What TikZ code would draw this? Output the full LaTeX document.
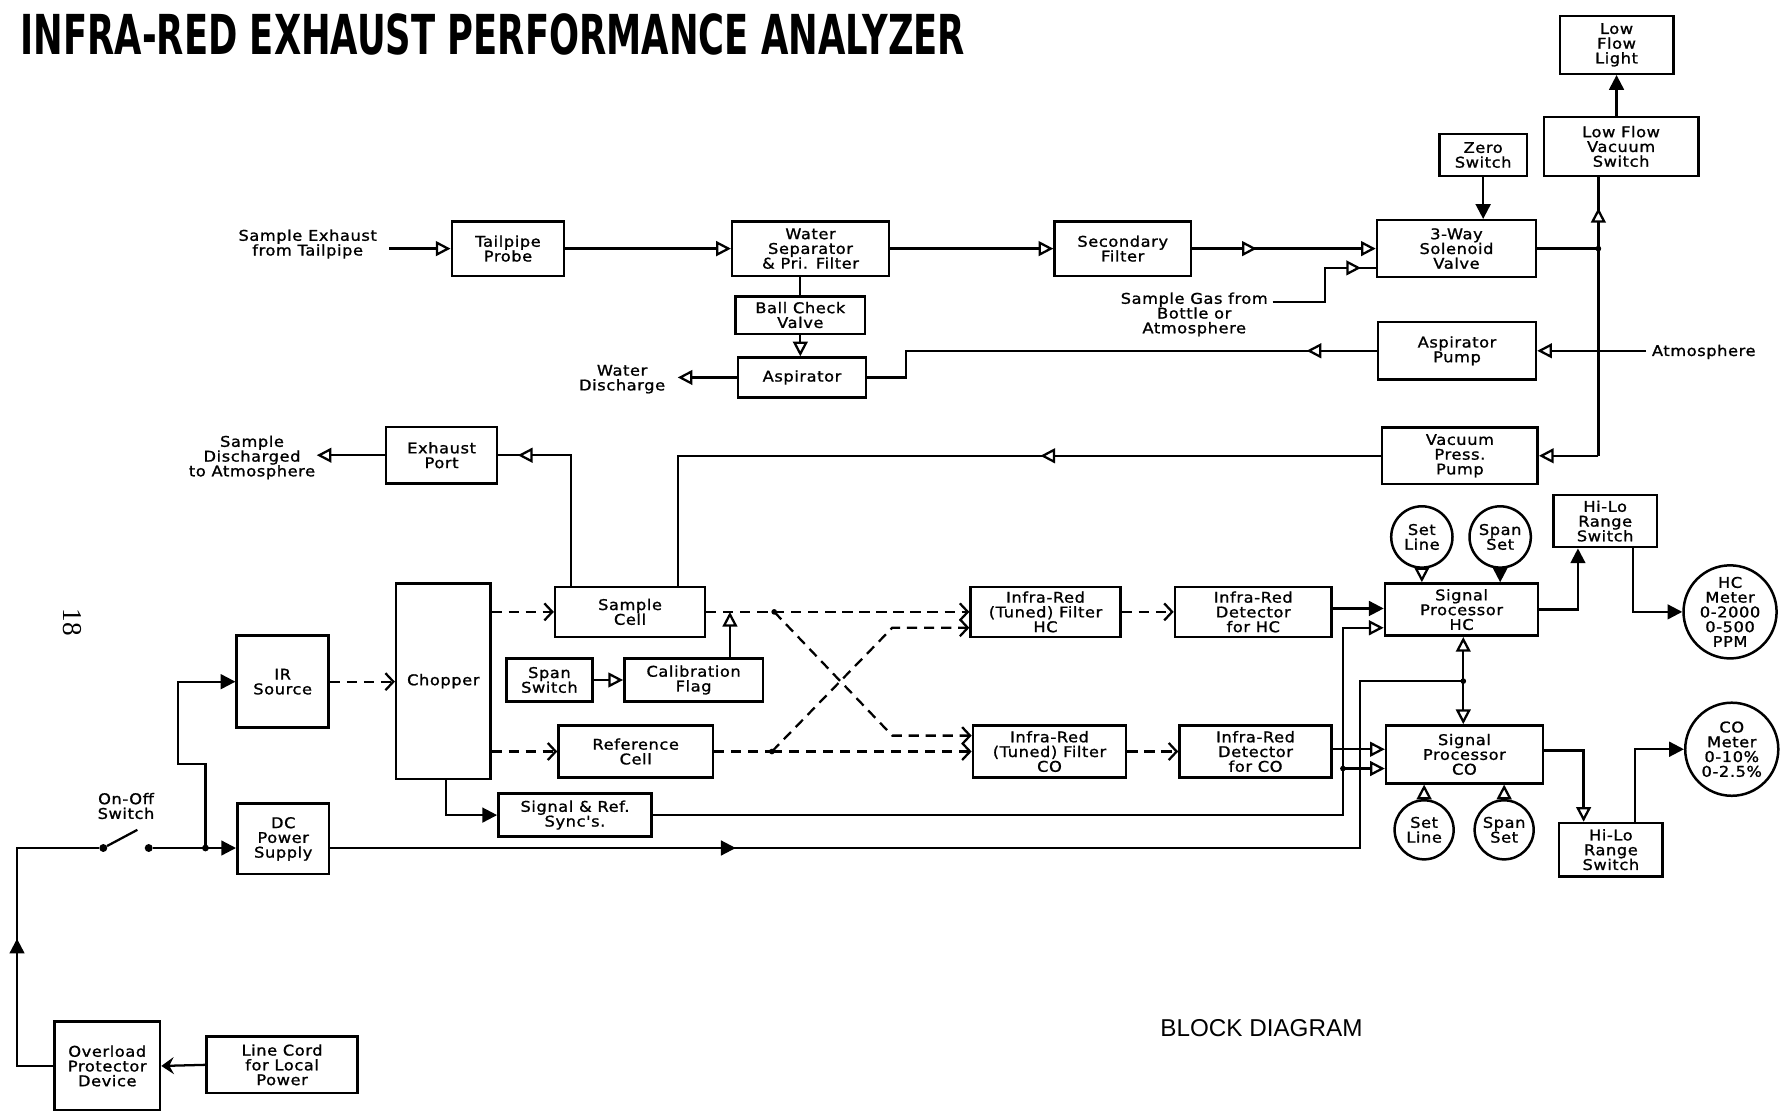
\documentclass[tikz,border=0pt]{standalone}
\usepackage{fontspec}
\usepackage{graphicx}
\usetikzlibrary{arrows.meta,decorations.markings}
\newfontfamily\lblfont[FakeStretch=1.1,LetterSpace=4,FakeBold=1.2]{DejaVu Sans}
\newfontfamily\ttlfont{DejaVu Sans}
\newfontfamily\bdfont{Liberation Sans}
\newfontfamily\numfont{Liberation Serif}
\tikzset{
  oat/.tip={Triangle[fill=white,length=13pt,width=13pt]},
  fat/.tip={Triangle[length=13pt,width=13pt]},
  cht/.tip={Straight Barb[length=7pt,width=15pt]},
  bart/.tip={Stealth[length=11pt,width=15pt,inset=4pt]},
  ln/.style={line width=2pt},
  oa/.style={ln,-oat},
  fa/.style={ln,-fat},
  dl/.style={ln,dash pattern=on 9pt off 6pt},
  da/.style={dl,-cht},
  blk/.style={draw,line width=2.2pt,inner sep=0pt,align=center,font=\lblfont\fontsize{13}{13}\selectfont},
  rnd/.style={blk,circle},
  lbl/.style={inner sep=0pt,align=center,font=\lblfont\fontsize{13}{13}\selectfont},
  midarr/.style n args={2}{postaction={decorate,decoration={markings,mark=at position #1 with {\arrow{#2}}}}},
  jdot/.style={circle,fill,inner sep=0pt,minimum size=5pt},
}
\begin{document}
\begin{tikzpicture}[x=1pt,y=-1pt]
\fill[white] (0,0) rectangle (1568,979.6);
\useasboundingbox (0,0) rectangle (1568,979.6);

% title and captions
\node[anchor=north west,inner sep=0pt] (title) at (18,12) {\resizebox{832pt}{36pt}{\ttlfont\bfseries INFRA-RED EXHAUST PERFORMANCE ANALYZER}};
\node[anchor=north west,inner sep=0pt] (bd) at (1022,898) {\resizebox{178pt}{15pt}{\bdfont BLOCK DIAGRAM}};
\node[rotate=-90,inner sep=0pt,font=\numfont\fontsize{24}{24}\selectfont] (pg) at (64,548) {18};

% boxes
\node[blk,minimum width=100pt,minimum height=51pt] (lfl) at (1424,39.5) {Low\\Flow\\Light};
\node[blk,minimum width=136pt,minimum height=52pt] (lfvs) at (1428,129) {Low Flow\\Vacuum\\Switch};
\node[blk,minimum width=77pt,minimum height=37pt] (zero) at (1306.5,136.5) {Zero\\Switch};
\node[blk,minimum width=140pt,minimum height=50pt] (way3) at (1283,219) {3-Way\\Solenoid\\Valve};
\node[blk,minimum width=99pt,minimum height=48pt] (tp) at (447.5,219) {Tailpipe\\Probe};
\node[blk,minimum width=138pt,minimum height=48pt] (ws) at (714,219) {Water\\Separator\\\& Pri. Filter};
\node[blk,minimum width=120pt,minimum height=48pt] (sf) at (989,219) {Secondary\\Filter};
\node[blk,minimum width=114pt,minimum height=33pt] (bcv) at (705,277.5) {Ball Check\\Valve};
\node[blk,minimum width=113pt,minimum height=35pt] (asp) at (706.5,332.5) {Aspirator};
\node[blk,minimum width=139pt,minimum height=51pt] (ap) at (1283.5,309) {Aspirator\\Pump};
\node[blk,minimum width=137pt,minimum height=50pt] (vpp) at (1286,401.5) {Vacuum\\Press.\\Pump};
\node[blk,minimum width=98pt,minimum height=50pt] (ep) at (389,401) {Exhaust\\Port};
\node[blk,minimum width=132pt,minimum height=44pt] (sc) at (555,539) {Sample\\Cell};
\node[blk,minimum width=83pt,minimum height=172pt] (chop) at (390.5,600) {Chopper};
\node[blk,minimum width=81pt,minimum height=81pt] (irs) at (249,600.5) {IR\\Source};
\node[blk,minimum width=76pt,minimum height=38pt] (span) at (484,599) {Span\\Switch};
\node[blk,minimum width=122pt,minimum height=38pt] (cal) at (611,599) {Calibration\\Flag};
\node[blk,minimum width=136pt,minimum height=46pt] (rc) at (560,662) {Reference\\Cell};
\node[blk,minimum width=135pt,minimum height=38pt] (sync) at (506.5,718) {Signal \& Ref.\\Sync's.};
\node[blk,minimum width=81pt,minimum height=62pt] (dc) at (249.5,739) {DC\\Power\\Supply};
\node[blk,minimum width=93pt,minimum height=78pt] (ovl) at (94.5,939) {Overload\\Protector\\Device};
\node[blk,minimum width=133pt,minimum height=50pt] (lc) at (248.5,938) {Line Cord\\for Local\\Power};
\node[blk,minimum width=132pt,minimum height=44pt] (irhc) at (921,539) {Infra-Red\\(Tuned) Filter\\HC};
\node[blk,minimum width=138pt,minimum height=44pt] (dethc) at (1104,539) {Infra-Red\\Detector\\for HC};
\node[blk,minimum width=135pt,minimum height=46pt] (irco) at (924.5,662) {Infra-Red\\(Tuned) Filter\\CO};
\node[blk,minimum width=134pt,minimum height=46pt] (detco) at (1106,662) {Infra-Red\\Detector\\for CO};
\node[blk,minimum width=135pt,minimum height=46pt] (sphc) at (1287.5,537) {Signal\\Processor\\HC};
\node[blk,minimum width=138pt,minimum height=51pt] (spco) at (1290,664.5) {Signal\\Processor\\CO};
\node[blk,minimum width=91pt,minimum height=46pt] (hilohc) at (1414,459) {Hi-Lo\\Range\\Switch};
\node[blk,minimum width=91pt,minimum height=47pt] (hiloco) at (1419,748.5) {Hi-Lo\\Range\\Switch};
\node[rnd,minimum size=54pt] (slhc) at (1252.5,473) {Set\\Line};
\node[rnd,minimum size=54pt] (sshc) at (1321.5,473) {Span\\Set};
\node[rnd,minimum size=52pt] (slco) at (1254.5,731) {Set\\Line};
\node[rnd,minimum size=52pt] (ssco) at (1325,731) {Span\\Set};
\node[rnd,minimum size=82pt] (hcm) at (1524,539) {HC\\Meter\\0-2000\\0-500\\PPM};
\node[rnd,minimum size=82pt] (com) at (1525.5,660) {CO\\Meter\\0-10\%\\0-2.5\%};

% free labels
\node[lbl] (sein) at (271,215) {Sample Exhaust\\from Tailpipe};
\coordinate (sein0) at (343,219);
\node[lbl] (wd) at (548,334) {Water\\Discharge};
\coordinate (wdc) at (597,332.5);
\node[lbl] (sda) at (222,403) {Sample\\Discharged\\to Atmosphere};
\coordinate (sdc) at (279,401);
\node[lbl] (sg) at (1052,277) {Sample Gas from\\Bottle or\\Atmosphere};
\coordinate (sgc) at (1121,266);
\node[lbl,anchor=west] (atm) at (1455,310) {Atmosphere};
\coordinate (atmc) at (1450,309);
\node[lbl] (onoff) at (111,710) {On-Off\\Switch};

% top flow row
\draw[oa] (sein0) -- (tp.west);
\draw[oa] (tp.east) -- (ws.west);
\draw[oa] (ws.east) -- (sf.west);
\draw[oa,midarr={57pt}{oat}] (sf.east) -- (way3.west);
\coordinate (sgk) at (1167,236);
\draw[ln,midarr={-13pt}{oat}] (sgc) -| (sgk) -- (sgk -| way3.west);
\draw[fa] (zero.south) -- (zero.south |- way3.north);

% vacuum switch column
\coordinate (vx) at (1408,401.5);
\coordinate (j1) at (1408,219);
\draw[ln] (way3.east) -- (j1);
\node[jdot] (j1d) at (j1) {};
\draw[ln,midarr={-27pt}{oat}] (vx) -- (vx |- lfvs.south);
\draw[fa] (lfl.south |- lfvs.north) -- (lfl.south);
\draw[oa] (vx) -- (vx -| vpp.east);
\draw[oa] (atmc) -- (ap.east);

% water separator branch
\draw[ln] (bcv.north |- ws.south) -- (bcv.north);
\draw[oa] (bcv.south) -- (bcv.south |- asp.north);
\draw[oa] (asp.west) -- (wdc);
\coordinate (ak) at (798,332.5);
\draw[ln,midarr={62pt}{oat}] (ap.west) -| (ak) -- (asp.east);

% vacuum pump to sample cell, exhaust
\draw[ln,midarr={300pt}{oat}] (vpp.west) -| ([xshift=42pt]sc.north);
\draw[ln,midarr={-17pt}{oat}] ([xshift=-52pt]sc.north) |- (ep.east);
\draw[oa] (ep.west) -- (sdc);

% optical path
\draw[da] (irs.east) -- (irs.east -| chop.west);
\draw[da] (chop.east |- sc.west) -- (sc.west);
\draw[da] (chop.east |- rc.west) -- (rc.west);
\draw[oa] (span.east) -- (cal.west);
\coordinate (calt) at (643,539);
\draw[oa] (calt |- cal.north) -- (calt);
\coordinate (jd1) at (682,539);
\coordinate (jd2) at (680,662);
\coordinate (x1) at (786,648);
\coordinate (x2) at (786,553);
\draw[dl] (sc.east) -- (jd1);
\draw[da] (jd1) -- (irhc.west);
\draw[da] (jd1) -- (x1) -- (x1 -| irco.west);
\draw[dl] (rc.east) -- (jd2);
\draw[da] (jd2) -- (irco.west);
\draw[da] (jd2) -- (x2) -- (x2 -| irhc.west);
\node[jdot,minimum size=5pt] (jd1d) at (jd1) {};
\node[jdot,minimum size=5pt] (jd2d) at (jd2) {};
\draw[da] (irhc.east) -- (dethc.west);
\draw[da] (irco.east) -- (detco.west);

% detectors to processors
\coordinate (h1) at (1173,536);
\draw[fa] (h1) -- (h1 -| sphc.west);
\coordinate (c1) at (1173,660);
\draw[oa] (c1) -- (c1 -| spco.west);

% chopper sync
\coordinate (cs) at (393,686);
\coordinate (cs2) at (393,718);
\draw[fa] (cs) -- (cs2) -- (sync.west);
\coordinate (s1) at (1183,718);
\coordinate (s2) at (1183,553);
\coordinate (s3) at (1183,677);
\draw[oa] (sync.east) -- (s1) -- (s2) -- (s2 -| sphc.west);
\draw[oa] (s3) -- (s3 -| spco.west);
\node[jdot,minimum size=5pt] (s3d) at (s3) {};

% DC power
\coordinate (d1) at (1198,747);
\coordinate (jdc) at (1289,600);
\draw[ln,midarr={357pt}{fat}] ([yshift=-8pt]dc.east) -- (d1) |- (jdc);
\node[jdot,minimum size=5pt] (jdcd) at (jdc) {};
\draw[oa] (jdc) -- (jdc |- sphc.south);
\draw[oa] (jdc) -- (jdc |- spco.north);

% controls and outputs
\draw[oa] (slhc.south) -- (slhc.south |- sphc.north);
\draw[fa] (sshc.south) -- (sshc.south |- sphc.north);
\draw[oa] (slco.north) -- (slco.north |- spco.south);
\draw[oa] (ssco.north) -- (ssco.north |- spco.south);
\draw[fa] (sphc.east) -| ([xshift=-24pt]hilohc.south);
\draw[fa] ([xshift=24.5pt]hilohc.south) |- (hcm.west);
\draw[oa] ([yshift=3.5pt]spco.east) -| ([xshift=-24pt]hiloco.north);
\draw[fa] ([xshift=21.5pt]hiloco.north) |- (com.west);

% power input and switch
\node[jdot,minimum size=7pt] (sw1) at (91,747) {};
\node[jdot,minimum size=7pt] (sw2) at (131,747) {};
\coordinate (swl) at (121,731);
\draw[ln] (sw1) -- (swl);
\coordinate (jsw) at (181,747);
\node[jdot,minimum size=6pt] (jswd) at (jsw) {};
\draw[fa] (sw2) -- (jsw) -- (jsw -| dc.west);
\coordinate (k1) at (181,673);
\coordinate (k2) at (157,673);
\draw[fa] (jsw) -- (k1) -- (k2) |- (irs.west);
\coordinate (o1) at (15,747);
\draw[ln,midarr={144pt}{fat}] (ovl.west) -| (o1) -- (sw1);
\draw[ln,-bart] (lc.west) -- (ovl.east);
\end{tikzpicture}
\end{document}
